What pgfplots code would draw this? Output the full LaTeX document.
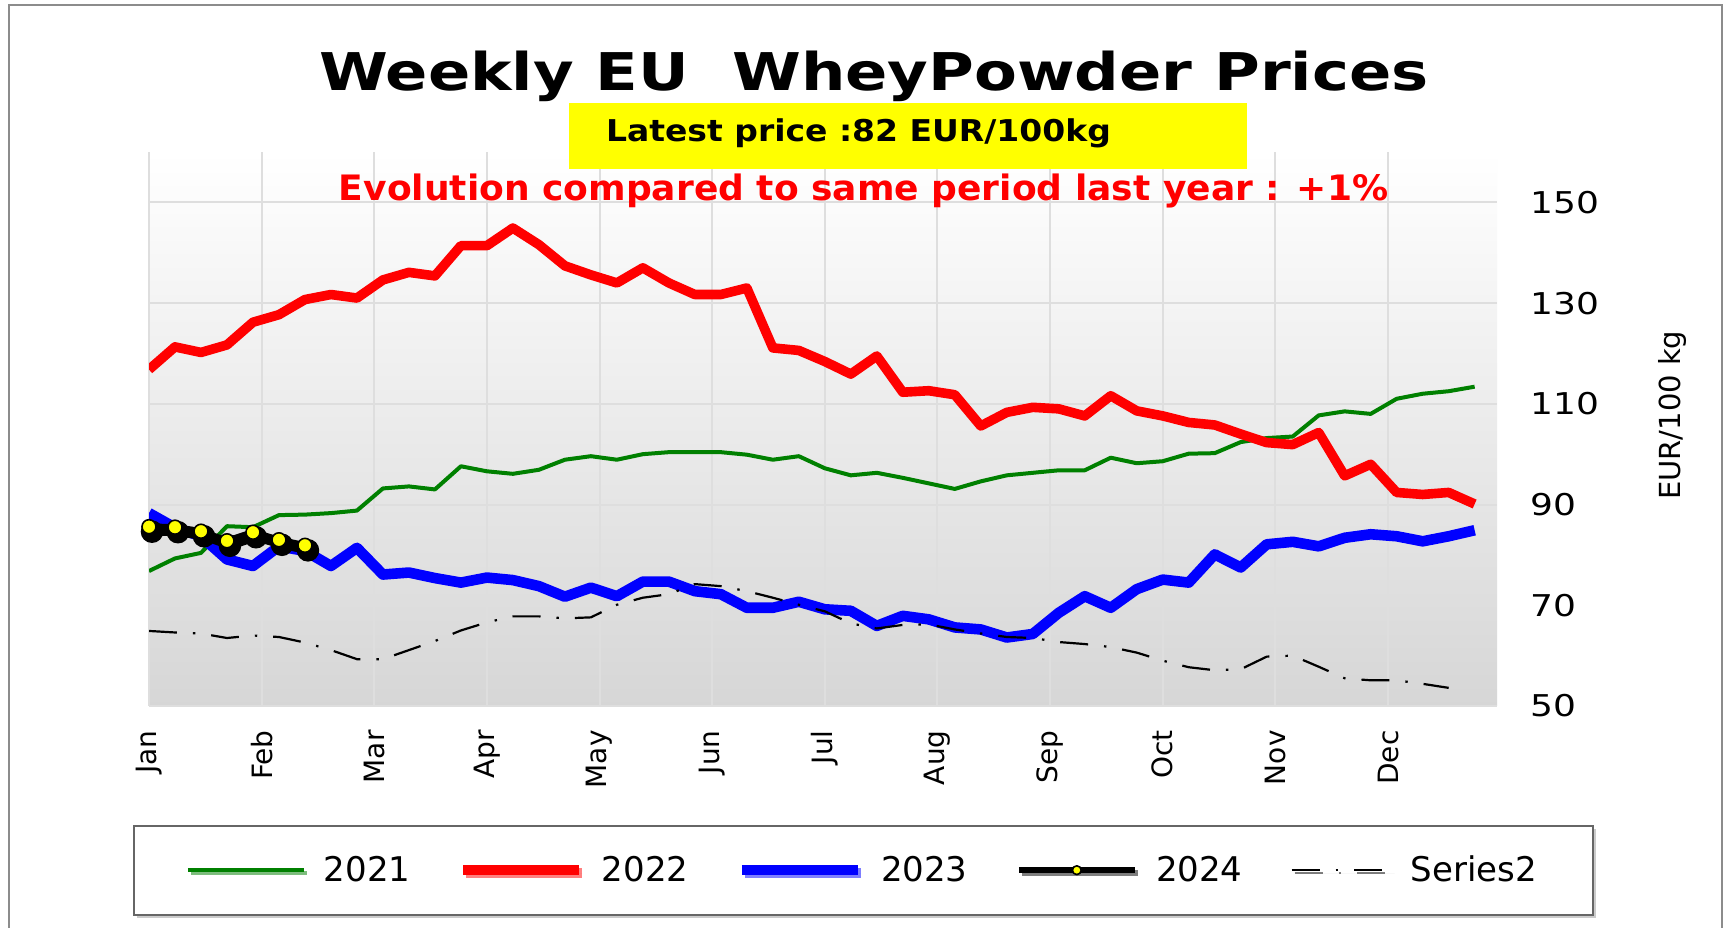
\documentclass[border=0pt]{standalone}
\usepackage{fontspec}
\setmainfont{DejaVu Sans}
\usepackage{pgfplots}
\pgfplotsset{compat=1.18}
\usetikzlibrary{shadows}
\definecolor{cgreen}{RGB}{0,128,0}
\definecolor{cred}{RGB}{255,0,0}
\definecolor{cblue}{RGB}{0,0,255}
\definecolor{cyel}{RGB}{255,255,0}
\pgfplotsset{s2 legend/.style={legend image code/.code={\draw[##1] (4pt,0pt) -- (54pt,0pt);}},
  y4 legend/.style={legend image code/.code={\draw[mark repeat=2,mark phase=2,##1,mark size=2.2pt] plot coordinates {(0pt,0pt) (29pt,0pt) (58pt,0pt)};}}}
\begin{document}
\begin{tikzpicture}
\fill[white] (0pt,0pt) rectangle (868pt,-464pt);
\draw[black!45, line width=1pt] (4.5pt,-464pt) -- (4.5pt,-2.75pt) -- (860.8pt,-2.75pt) -- (860.8pt,-464pt);
\begin{axis}[
  at={(74.5pt,-353pt)}, anchor=south west,
  scale only axis, width=674pt, height=277pt,
  xmin=0, xmax=51.86, ymin=50, ymax=160,
  axis line style={draw=none},
  tick style={draw=none},
  axis background/.style={shade, top color=white, bottom color=black!16},
  grid=major,
  major grid style={draw=black!13, line width=1pt},
  xtick={0,4.3333,8.6667,13,17.3333,21.6667,26,30.3333,34.6667,39,43.3333,47.6667},
  xticklabels={Jan,Feb,Mar,Apr,May,Jun,Jul,Aug,Sep,Oct,Nov,Dec},
  xticklabel style={rotate=90, anchor=east, font=\fontsize{14}{16}\selectfont, inner sep=0pt},
  xticklabel shift=12pt,
  ytick={50,70,90,110,130,150},
  yticklabel pos=right,
  yticklabel style={anchor=west, font=\fontsize{15}{18}\selectfont, xscale=1.2, inner sep=0pt},
  yticklabel shift=16.5pt,
  /pgf/number format/assume math mode=true,
  legend image code/.code={\draw[mark repeat=2,mark phase=2,#1] plot coordinates {(0pt,0pt) (29pt,0pt) (58pt,0pt)};},
  legend style={at={(-0.012,-0.2144)}, anchor=north west, draw=black!60, line width=1pt, fill=white,
    font=\fontsize{17}{20}\selectfont, inner xsep=26pt, inner ysep=13pt,
    drop shadow={shadow xshift=1.5pt, shadow yshift=-1.5pt, fill=black!40},
    /tikz/every odd column/.append style={column sep=7pt},
    /tikz/every even column/.append style={column sep=22pt}},
  legend columns=5,
  legend cell align=left,
]
\addplot[cgreen, line width=2pt, line join=round] coordinates {
(0,76.8) (1,79.3) (2,80.4) (3,85.7) (4,85.5) (5,87.9) (6,88.0) (7,88.3) (8,88.8) (9,93.2)
(10,93.6) (11,93.0) (12,97.6) (13,96.6) (14,96.1) (15,96.9) (16,98.9) (17,99.6) (18,98.9) (19,100.0)
(20,100.4) (21,100.4) (22,100.4) (23,99.9) (24,98.9) (25,99.6) (26,97.2) (27,95.8) (28,96.3) (29,95.3)
(30,94.2) (31,93.1) (32,94.6) (33,95.8) (34,96.3) (35,96.8) (36,96.8) (37,99.3) (38,98.2) (39,98.6)
(40,100.1) (41,100.2) (42,102.4) (43,103.2) (44,103.5) (45,107.7) (46,108.5) (47,108.0) (48,111.0) (49,112.0)
(50,112.5) (51,113.4)};
\addlegendentry{2021}
\addplot[cred, line width=4.8pt, line join=round] coordinates {
(0,116.8) (1,121.3) (2,120.2) (3,121.7) (4,126.2) (5,127.7) (6,130.7) (7,131.7) (8,131.0) (9,134.6)
(10,136.1) (11,135.4) (12,141.4) (13,141.4) (14,144.9) (15,141.6) (16,137.4) (17,135.6) (18,134.0) (19,137.0)
(20,134.0) (21,131.7) (22,131.7) (23,133.0) (24,121.1) (25,120.6) (26,118.4) (27,115.9) (28,119.5) (29,112.3)
(30,112.6) (31,111.8) (32,105.6) (33,108.3) (34,109.3) (35,109.0) (36,107.6) (37,111.6) (38,108.6) (39,107.6)
(40,106.3) (41,105.8) (42,104.0) (43,102.3) (44,101.9) (45,104.3) (46,95.7) (47,98.0) (48,92.4) (49,92.0)
(50,92.4) (51,90.1)};
\addlegendentry{2022}
\addplot[cblue, line width=5.3pt, line join=round] coordinates {
(0,88.3) (1,85.4) (2,83.7) (3,79.1) (4,77.8) (5,81.7) (6,80.8) (7,77.8) (8,81.4) (9,76.1)
(10,76.5) (11,75.4) (12,74.5) (13,75.5) (14,75.0) (15,73.8) (16,71.7) (17,73.5) (18,71.8) (19,74.7)
(20,74.7) (21,72.8) (22,72.2) (23,69.5) (24,69.5) (25,70.7) (26,69.2) (27,68.9) (28,65.9) (29,67.9)
(30,67.2) (31,65.6) (32,65.2) (33,63.6) (34,64.3) (35,68.5) (36,71.8) (37,69.5) (38,73.2) (39,75.1)
(40,74.5) (41,80.1) (42,77.5) (43,82.1) (44,82.6) (45,81.7) (46,83.4) (47,84.1) (48,83.7) (49,82.7)
(50,83.7) (51,84.9)};
\addlegendentry{2023}
\addplot[black, line width=4pt, xshift=1.5pt, yshift=-2.5pt, mark=*, mark size=3.6pt, mark options={black}, forget plot] coordinates {
(0,85.6) (1,85.5) (2,84.7) (3,82.8) (4,84.5) (5,83.0) (6,81.9)};
\addplot[black, line width=3.2pt, line join=round, mark=*, mark size=3.5pt, mark options={fill=cyel, draw=black, line width=0.8pt}, y4 legend] coordinates {
(0,85.6) (1,85.5) (2,84.7) (3,82.8) (4,84.5) (5,83.0) (6,81.9)};
\addlegendentry{2024}
\addplot[black, line width=1.1pt, dash pattern=on 14pt off 8pt on 1.2pt off 8pt, s2 legend] coordinates {
(0,64.9) (1,64.6) (2,64.4) (3,63.5) (4,64.0) (5,63.7) (6,62.6) (7,61.1) (8,59.3) (9,59.3)
(10,61.1) (11,62.9) (12,65.0) (13,66.6) (14,67.8) (15,67.8) (16,67.4) (17,67.6) (18,70.1) (19,71.5)
(20,72.2) (21,74.2) (22,73.8) (23,72.8) (24,71.5) (25,70.1) (26,68.8) (27,66.4) (28,65.4) (29,66.1)
(30,66.2) (31,65.2) (32,64.4) (33,63.7) (34,63.5) (35,62.7) (36,62.3) (37,61.7) (38,60.6) (39,59.0)
(40,57.7) (41,57.1) (42,57.3) (43,59.8) (44,60.0) (45,57.8) (46,55.5) (47,55.1) (48,55.1) (49,54.4)
(50,53.6)};
\addlegendentry{Series2}
\end{axis}
\node[font=\fontsize{26}{30}\bfseries\selectfont, xscale=1.2, anchor=base, inner sep=0pt] at (437pt,-45.4pt) {Weekly EU\ \ WheyPowder Prices};
\fill[cyel] (284.5pt,-51.5pt) rectangle (623.5pt,-84.5pt);
\node[font=\fontsize{15}{18}\bfseries\selectfont, xscale=1.1, anchor=base west, inner sep=0pt] at (302.8pt,-70.9pt) {Latest price :82 EUR/100kg};
\node[font=\fontsize{17.5}{21}\bfseries\selectfont, text=cred, xscale=1.03, anchor=base, inner sep=0pt] at (431.8pt,-100.2pt) {Evolution compared to same period last year : +1\%};
\node[font=\fontsize{14.5}{17}\selectfont, rotate=90, inner sep=0pt] at (836pt,-207.6pt) {EUR/100 kg};
\end{tikzpicture}
\end{document}
